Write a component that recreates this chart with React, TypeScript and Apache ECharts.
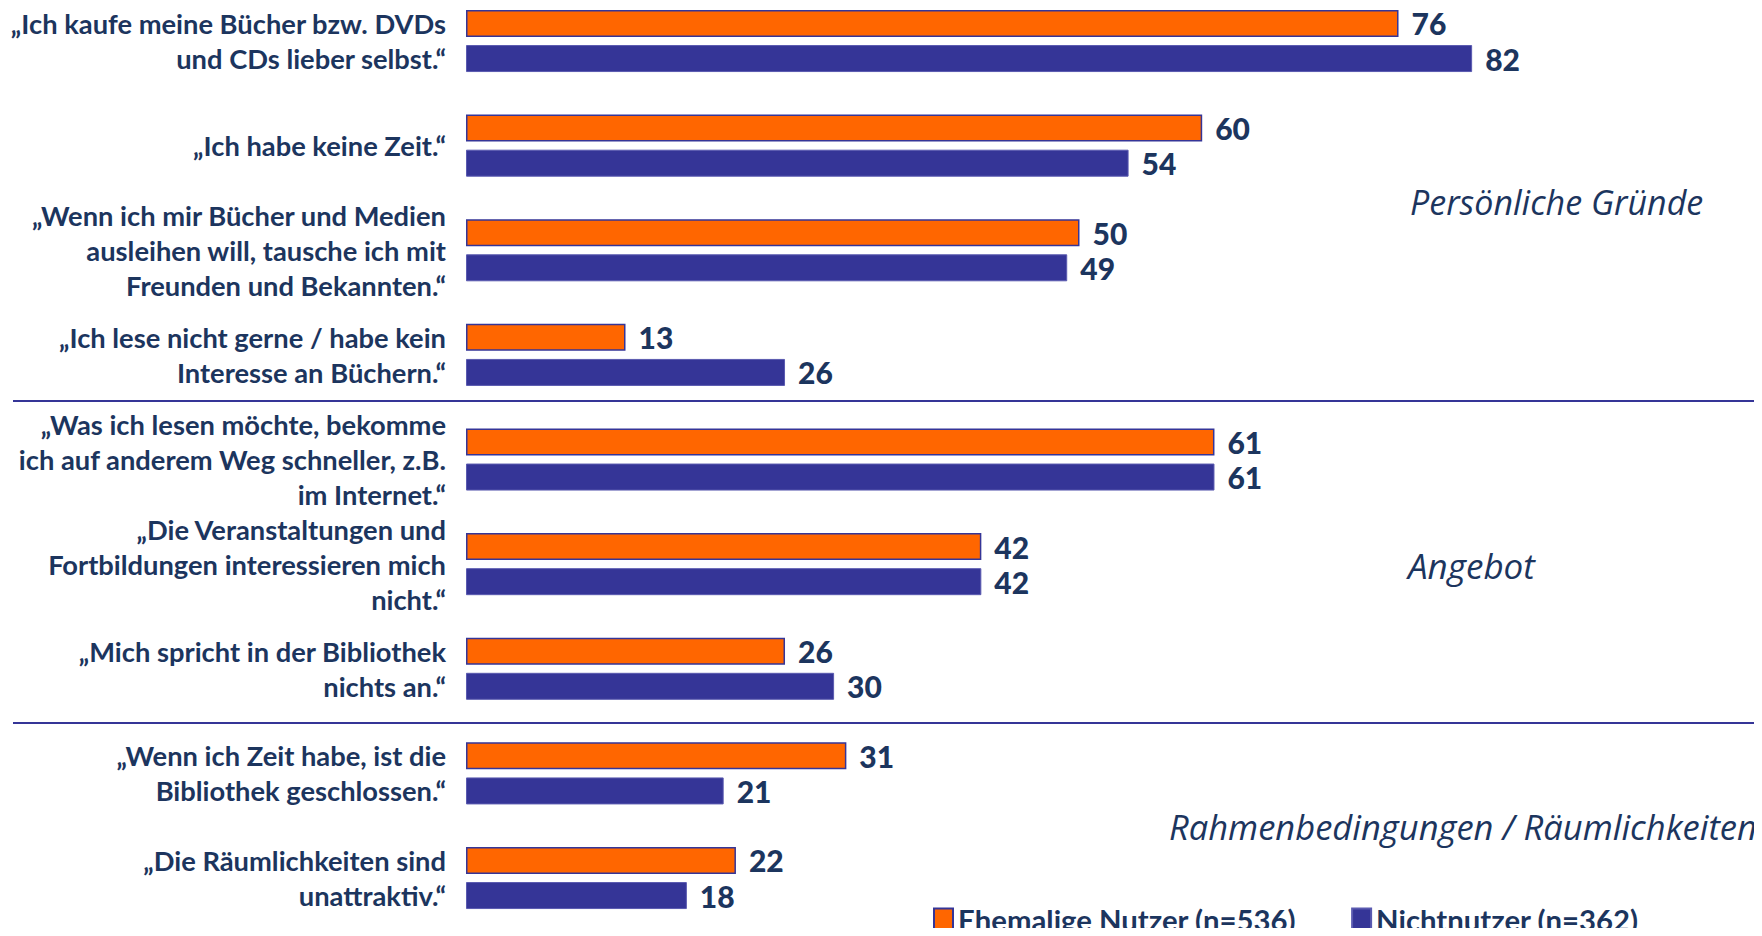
import React, { useEffect, useRef } from "react";
import * as echarts from "echarts";

const categories: string[] = [
  "„Ich kaufe meine Bücher bzw. DVDs\nund CDs lieber selbst.“",
  "„Ich habe keine Zeit.“",
  "„Wenn ich mir Bücher und Medien\nausleihen will, tausche ich mit\nFreunden und Bekannten.“",
  "„Ich lese nicht gerne / habe kein\nInteresse an Büchern.“",
  "„Was ich lesen möchte, bekomme\nich auf anderem Weg schneller, z.B.\nim Internet.“",
  "„Die Veranstaltungen und\nFortbildungen interessieren mich\nnicht.“",
  "„Mich spricht in der Bibliothek\nnichts an.“",
  "„Wenn ich Zeit habe, ist die\nBibliothek geschlossen.“",
  "„Die Räumlichkeiten sind\nunattraktiv.“",
];

const ehemaligeValues: number[] = [76, 60, 50, 13, 61, 42, 26, 31, 22];
const nichtnutzerValues: number[] = [82, 54, 49, 26, 61, 42, 30, 21, 18];

const seriesNames: string[] = ["Ehemalige Nutzer (n=536)", "Nichtnutzer (n=362)"];
const sectionLabels: string[] = ["Persönliche Gründe", "Angebot", "Rahmenbedingungen / Räumlichkeiten"];

const NAVY = "#1c355e";
const ORANGE = "#ff6600";
const BLUE = "#353597";
const LABEL_FONT = "Lato, 'Noto Sans', sans-serif";
const ITALIC_FONT = "'Open Sans', 'Noto Sans', sans-serif";

export default function App() {
  const ref = useRef<HTMLDivElement>(null);

  useEffect(() => {
    if (!ref.current) return;
    const chart = echarts.init(ref.current, null, { renderer: "svg" });
    const valueLabel = {
      show: true,
      position: "right" as const,
      distance: 13,
      color: NAVY,
      fontFamily: LABEL_FONT,
      fontWeight: 900,
      fontSize: 30,
    };
    chart.setOption({
      animation: false,
      backgroundColor: "#ffffff",
      grid: { left: 466, right: 69, top: 41, bottom: 58, containLabel: false },
      xAxis: {
        type: "value",
        min: 0,
        max: 100,
        show: false,
        splitLine: { show: false },
      },
      yAxis: {
        type: "category",
        data: categories,
        inverse: true,
        boundaryGap: false,
        axisLine: { show: false },
        axisTick: { show: false },
        splitLine: { show: false },
        axisLabel: {
          margin: 20,
          color: NAVY,
          fontFamily: LABEL_FONT,
          fontWeight: "bold",
          fontSize: 27.3,
          lineHeight: 35,
          align: "right",
        },
      },
      legend: {
        left: 933,
        top: 904,
        padding: 0,
        itemWidth: 19,
        itemHeight: 21,
        itemGap: 55,
        icon: "rect",
        textStyle: {
          color: NAVY,
          fontFamily: LABEL_FONT,
          fontWeight: "bold",
          fontSize: 29.3,
          lineHeight: 30,
        },
        data: seriesNames,
      },
      series: [
        {
          name: seriesNames[0],
          type: "bar",
          data: ehemaligeValues,
          barWidth: 27,
          barGap: "30%",
          itemStyle: { color: ORANGE, borderColor: BLUE, borderWidth: 1.5 },
          label: valueLabel,
        },
        {
          name: seriesNames[1],
          type: "bar",
          data: nichtnutzerValues,
          barWidth: 27,
          barGap: "30%",
          itemStyle: { color: BLUE, borderColor: "#5a5ab0", borderWidth: 1 },
          label: valueLabel,
        },
      ],
      graphic: [
        { type: "line", shape: { x1: 13, y1: 401, x2: 1762, y2: 401 }, style: { stroke: BLUE, lineWidth: 2 } },
        { type: "line", shape: { x1: 13, y1: 723, x2: 1762, y2: 723 }, style: { stroke: BLUE, lineWidth: 2 } },
        {
          type: "text",
          x: 1410,
          y: 202,
          style: { text: sectionLabels[0], fill: NAVY, font: `italic 34px ${ITALIC_FONT}`, verticalAlign: "middle", align: "left" },
        },
        {
          type: "text",
          x: 1408,
          y: 565,
          style: { text: sectionLabels[1], fill: NAVY, font: `italic 35px ${ITALIC_FONT}`, verticalAlign: "middle", align: "left" },
        },
        {
          type: "text",
          x: 1169,
          y: 826,
          style: { text: sectionLabels[2], fill: NAVY, font: `italic 34.5px ${ITALIC_FONT}`, verticalAlign: "middle", align: "left" },
        },
      ],
    });
    return () => chart.dispose();
  }, []);

  return <div ref={ref} style={{ width: 1762, height: 936, margin: -8 }} />;
}
